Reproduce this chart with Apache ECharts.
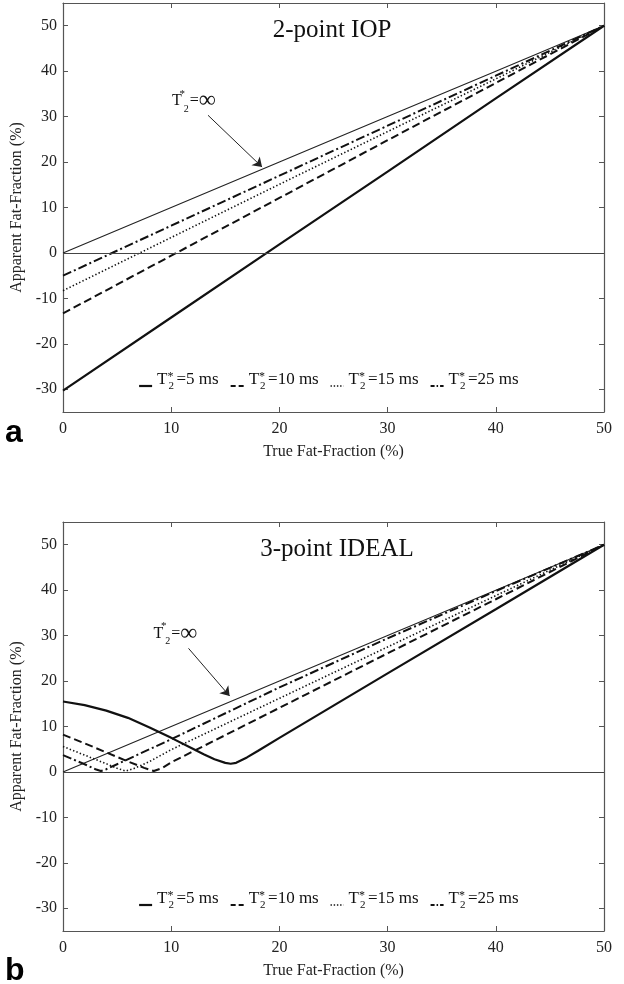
<!DOCTYPE html>
<html><head><meta charset="utf-8">
<script src="https://cdn.jsdelivr.net/npm/echarts@6/dist/echarts.min.js"></script>
<style>html,body{margin:0;padding:0;background:#fff}#c{width:624px;height:984px}</style>
</head><body><div id="c"></div>
<script>
// ---- tick labels / categories ----
const xTicks = [0, 10, 20, 30, 40, 50];
const yTicks = [-30, -20, -10, 0, 10, 20, 30, 40, 50];
const teLabels = ['5', '10', '15', '25'];
const panelTitles = ['2-point IOP', '3-point IDEAL'];
const panelLetters = ['a', 'b'];
const xName = 'True Fat-Fraction (%)';
const yName = 'Apparent Fat-Fraction (%)';

// ---- panel a: 2-point IOP (true FF %, apparent FF %) ----
const iopX   = [0, 10, 20, 30, 40, 50];
const iopInf = [0, 10, 20, 30, 40, 50];
const iop5   = [-30.3, -14.2, 1.9, 17.9, 34.0, 50];
const iop10  = [-13.3, -0.6, 12.1, 24.8, 37.4, 50];
const iop15  = [-8.3, 3.4, 15.1, 26.7, 38.3, 50];
const iop25  = [-5.0, 6.0, 17.0, 28.0, 39.0, 50];

// ---- panel b: 3-point IDEAL ----
const idealInfX = [0, 10, 20, 30, 40, 50];
const idealInf  = [0, 10, 20, 30, 40, 50];
const ideal5X   = [0, 2, 4, 6, 8, 10, 12, 13, 14, 15, 15.5, 16, 17, 18, 20, 25, 30, 40, 50];
const ideal5    = [15.5, 14.7, 13.5, 11.9, 9.8, 7.5, 5.1, 3.9, 2.8, 2.0, 1.8, 2.0, 3.2, 4.6, 7.5, 14.6, 21.7, 35.8, 50];
const ideal10X  = [0, 2, 4, 6, 7.5, 8.4, 9.2, 10, 12, 20, 30, 40, 50];
const ideal10   = [8.2, 6.3, 4.3, 2.3, 0.9, 0.2, 0.9, 2.1, 4.5, 14.1, 26.1, 38.0, 50];
const ideal15X  = [0, 2, 4, 5, 5.8, 6.5, 8, 10, 20, 30, 40, 50];
const ideal15   = [5.6, 3.7, 1.8, 0.8, 0.2, 0.7, 2.3, 4.9, 16.2, 27.5, 38.8, 50];
const ideal25X  = [0, 1, 2, 3, 3.5, 4, 5, 10, 20, 30, 40, 50];
const ideal25   = [3.7, 2.7, 1.7, 0.6, 0.2, 0.6, 1.7, 7.2, 18.6, 29.4, 39.8, 50];

// annotation anchor points (data coords)
const annotText  = [[12.1, 33.4], [10.4, 30.5]];
const annotArrow = [[[13.4, 30.3], [18.4, 18.9]], [[11.6, 27.2], [15.4, 16.7]]];

const zip = (xs, ys) => xs.map((x, i) => [x, ys[i]]);
const SERIF = "'Liberation Serif','Times New Roman',serif";
const INK = '#111';
const AX = '#555';

const lineStyles = [
  { type: 'solid', width: 2.2 },
  { type: [8, 4], width: 2 },
  { type: [1.4, 2.2], width: 1.6 },
  { type: [9, 3, 2, 3], width: 2 }
];
const legendDash = ['solid', [5, 3], [1.4, 1.8], [4, 2, 1.5, 2]];
const seriesName = te => 'T2*=' + te + ' ms';

const panels = [
  { inf: zip(iopX, iopInf), data: [zip(iopX, iop5), zip(iopX, iop10), zip(iopX, iop15), zip(iopX, iop25)] },
  { inf: zip(idealInfX, idealInf), data: [zip(ideal5X, ideal5), zip(ideal10X, ideal10), zip(ideal15X, ideal15), zip(ideal25X, ideal25)] }
];

const gridTops = [3, 522];
const gridH = 409;

const grids = gridTops.map(t => ({ left: 63, right: 20, top: t, height: gridH, show: false }));

const xAxes = [], yAxes = [];
gridTops.forEach((t, g) => {
  xAxes.push({
    type: 'value', gridIndex: g, min: 0, max: 50, position: 'bottom',
    name: xName, nameLocation: 'middle', nameGap: 32,
    nameTextStyle: { fontFamily: SERIF, fontSize: 16, color: '#222' },
    axisLine: { onZero: false, lineStyle: { color: AX, width: 1.2 } },
    axisTick: { inside: true, length: 5, lineStyle: { color: AX }, customValues: xTicks },
    axisLabel: { fontFamily: SERIF, fontSize: 16, color: '#222', margin: 9, customValues: xTicks },
    splitLine: { show: false }
  });
  xAxes.push({
    type: 'value', gridIndex: g, min: 0, max: 50, position: 'top',
    axisLine: { onZero: false, lineStyle: { color: AX, width: 1.2 } },
    axisTick: { inside: true, length: 5, lineStyle: { color: AX }, customValues: xTicks },
    axisLabel: { show: false, customValues: xTicks },
    splitLine: { show: false }
  });
  yAxes.push({
    type: 'value', gridIndex: g, min: -35, max: 55, position: 'left',
    name: yName, nameLocation: 'middle', nameGap: 27, nameRotate: 90,
    nameTextStyle: { fontFamily: SERIF, fontSize: 16, color: '#222' },
    axisLine: { onZero: false, lineStyle: { color: AX, width: 1.2 } },
    axisTick: { inside: true, length: 5, lineStyle: { color: AX }, customValues: yTicks },
    axisLabel: { fontFamily: SERIF, fontSize: 16, color: '#222', margin: 6, customValues: yTicks },
    splitLine: { show: false }
  });
  yAxes.push({
    type: 'value', gridIndex: g, min: -35, max: 55, position: 'right',
    axisLine: { onZero: false, lineStyle: { color: AX, width: 1.2 } },
    axisTick: { inside: true, length: 5, lineStyle: { color: AX }, customValues: yTicks },
    axisLabel: { show: false, customValues: yTicks },
    splitLine: { show: false }
  });
});

const annotRich = {
  t: { fontFamily: SERIF, fontSize: 16, lineHeight: 26, color: INK },
  sup: { fontFamily: SERIF, fontSize: 11, lineHeight: 12, verticalAlign: 'top', width: 1, color: INK },
  sub: { fontFamily: SERIF, fontSize: 10, lineHeight: 10, verticalAlign: 'bottom', width: 7, color: INK },
  inf: { fontFamily: SERIF, fontSize: 24, lineHeight: 26, color: INK }
};

const series = [];
panels.forEach((p, g) => {
  series.push({
    name: 'T2*=inf', type: 'line', xAxisIndex: g * 2, yAxisIndex: g * 2,
    data: p.inf, symbol: 'none', silent: true,
    lineStyle: { color: '#222', width: 1.1, type: 'solid' },
    markLine: {
      silent: true, symbol: ['none', 'arrow'], symbolSize: [0, 9],
      label: { show: false },
      lineStyle: { color: '#222', width: 1, type: 'solid' },
      data: [
        [{ coord: annotArrow[g][0], symbol: 'none' }, { coord: annotArrow[g][1], symbol: 'arrow', symbolSize: 9 }],
        [{ coord: [0, 0], symbol: 'none', lineStyle: { color: '#444', width: 1.1 } }, { coord: [50, 0], symbol: 'none' }]
      ]
    },
    markPoint: {
      silent: true, symbol: 'circle', symbolSize: 0,
      itemStyle: { color: 'transparent' },
      label: {
        show: true, position: 'inside',
        formatter: '{t|T}{sup|*}{sub|2}{t|=}{inf|∞}',
        rich: annotRich
      },
      data: [{ coord: annotText[g] }]
    }
  });
  p.data.forEach((d, i) => {
    series.push({
      name: seriesName(teLabels[i]), type: 'line', xAxisIndex: g * 2, yAxisIndex: g * 2,
      data: d, symbol: 'none', showSymbol: false, silent: true,
      lineStyle: Object.assign({ color: INK }, lineStyles[i]),
      itemStyle: { color: INK }
    });
  });
});

const legendRich = {
  t: { fontFamily: SERIF, fontSize: 17, lineHeight: 40, verticalAlign: 'top', padding: [5, 0, 0, 0], color: INK },
  sup: { fontFamily: SERIF, fontSize: 12, lineHeight: 40, verticalAlign: 'top', padding: [5, 0, 0, 0], width: 1, color: INK },
  sub: { fontFamily: SERIF, fontSize: 11, lineHeight: 40, verticalAlign: 'top', padding: [15, 0, 0, 0], width: 8, color: INK }
};
const legendTops = [366, 885];
const legends = legendTops.map(t => ({
  left: 138, top: t, orient: 'horizontal', itemWidth: 13, itemHeight: 10, itemGap: 11,
  padding: 0, selectedMode: false,
  itemStyle: { opacity: 0 },
  data: teLabels.map((te, i) => ({
    name: seriesName(te),
    lineStyle: { type: legendDash[i], width: lineStyles[i].width, color: INK }
  })),
  formatter: n => '{t|T}{sup|*}{sub|2}{t|=' + n.slice(4, -3) + ' ms}',
  textStyle: { fontFamily: SERIF, fontSize: 17, color: INK, rich: legendRich }
}));

const titles = [
  { text: panelTitles[0], left: 332, top: 18, textAlign: 'center', padding: 0,
    textStyle: { fontFamily: SERIF, fontSize: 25, fontWeight: 'normal', color: INK } },
  { text: panelTitles[1], left: 337, top: 537, textAlign: 'center', padding: 0,
    textStyle: { fontFamily: SERIF, fontSize: 25, fontWeight: 'normal', color: INK } },
  { text: panelLetters[0], left: 5, top: 417, padding: 0,
    textStyle: { fontFamily: "'Liberation Sans',Arial,sans-serif", fontSize: 32, fontWeight: 'bold', color: '#000' } },
  { text: panelLetters[1], left: 5, top: 955, padding: 0,
    textStyle: { fontFamily: "'Liberation Sans',Arial,sans-serif", fontSize: 32, fontWeight: 'bold', color: '#000' } }
];

const chart = echarts.init(document.getElementById('c'), null, { renderer: 'canvas' });
chart.setOption({
  animation: false,
  backgroundColor: '#fff',
  title: titles,
  legend: legends,
  grid: grids,
  xAxis: xAxes,
  yAxis: yAxes,
  series: series
});
</script></body></html>
